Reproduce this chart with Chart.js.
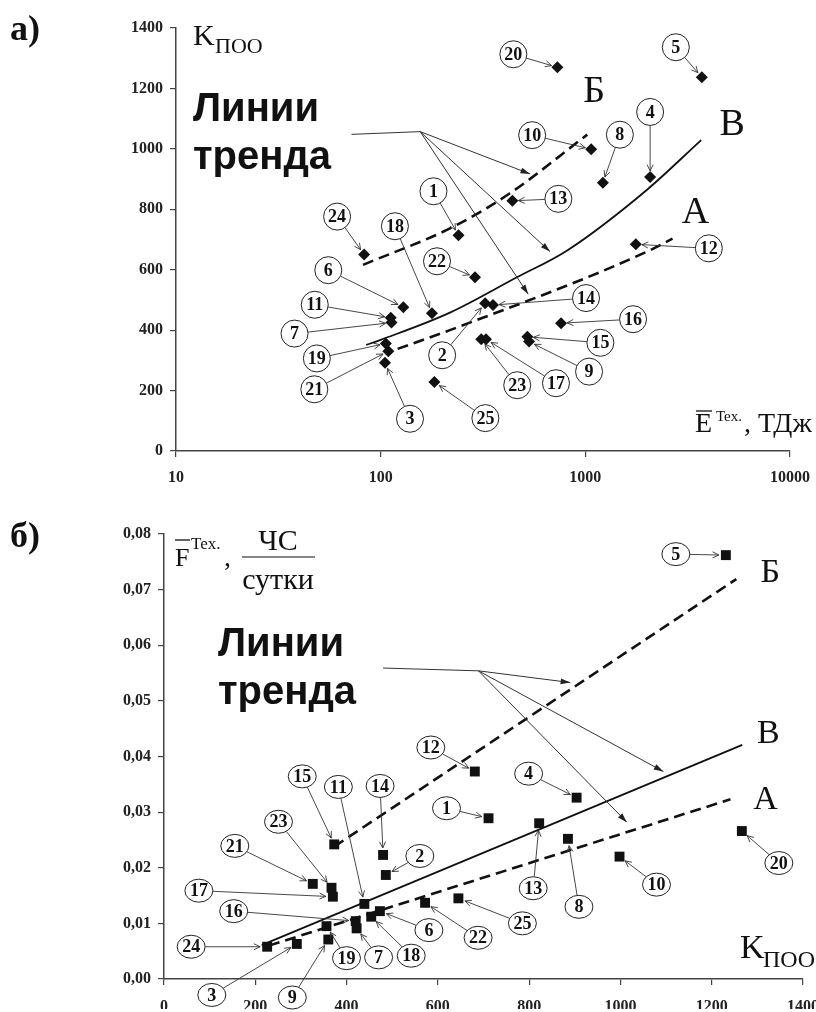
<!DOCTYPE html>
<html>
<head>
<meta charset="utf-8">
<script src="https://cdn.jsdelivr.net/npm/chart.js@4.4.1/dist/chart.umd.min.js"></script>
<style>
  body { margin: 0; background: #fff; }
  #wrap { position: relative; width: 816px; height: 1012px; }
  canvas { position: absolute; left: 0; }
</style>
</head>
<body>
<div id="wrap">
  <canvas id="chartA" width="816" height="505" style="top:0"></canvas>
  <canvas id="chartB" width="816" height="507" style="top:505px"></canvas>
</div>
<script>
const serif = "'Liberation Serif', 'Times New Roman', serif";
const sans = "'Liberation Sans', Arial, sans-serif";
const ink = "#111";

// номера объектов (одинаковые для обеих панелей)
const pointIds = [1, 2, 3, 4, 5, 6, 7, 8, 9, 10, 11, 12, 13, 14, 15, 16, 17, 18, 19, 20, 21, 22, 23, 24, 25];

// --- панель а) : Е тех., ТДж (лог. шкала) vs К ПОО ---
const energyTex = [240, 324, 105, 2073, 3708, 129, 113, 1218, 531, 1068, 112, 1765, 440, 354, 521, 761, 327, 178, 106, 730, 109, 289, 310, 83, 183];
const kpooA = [714, 489, 292, 907, 1237, 476, 425, 888, 362, 999, 441, 684, 828, 483, 378, 423, 370, 456, 356, 1270, 330, 575, 370, 650, 228];
const xTicksA = [10, 100, 1000, 10000];

// линии тренда
const trendAxA = [121, 218, 2080, 2666];
const trendAyA = [338, 400, 665, 703];
const trendAxB = [82, 226, 428, 1022];
const trendAyB = [616, 742, 853, 1047];
const trendAxV = [85, 100, 218, 463, 812, 1996, 3681];
const trendAyV = [351, 368, 458, 575, 663, 864, 1029];

// --- панель б) : К ПОО vs F тех., ЧС/сутки ---
const kpooB = [711, 486, 291, 904, 1231, 473, 422, 885, 360, 998, 439, 681, 822, 480, 373, 420, 370, 454, 356, 1266, 326, 572, 367, 226, 645];
const freqB = [0.0289, 0.0187, 0.0063, 0.0326, 0.0762, 0.0122, 0.0091, 0.0252, 0.0071, 0.0220, 0.0135, 0.0373, 0.0280, 0.0223, 0.0242, 0.0104, 0.0148, 0.0112, 0.0095, 0.0266, 0.0171, 0.0137, 0.0164, 0.0058, 0.0145];

const trendBxA = [230, 1241];
const trendByA = [0.0060, 0.0323];
const trendBxB = [373, 1254];
const trendByB = [0.0238, 0.0719];
const trendBxV = [214, 1267];
const trendByV = [0.0061, 0.0421];

// положение кружков с номерами относительно точки (пиксели)
const calloutA = [[-25,-44],[-43,52],[25,56],[0,-65],[-26,-30],[-75,-37],[-97,11],[17,-48],[60,30],[-59,-14],
  [-76,-13],[73,4],[46,-2],[93,-7],[73,6],[72,-4],[70,44],[-37,-87],[-69,15],[-44,-13],[-74,38],[-38,-16],[36,46],[-27,-38],[51,36]];
const calloutB = [[-42,-10],[34,-19],[-85,51],[-48,-24],[-50,-1],[49,19],[22,29],[11,68],[-36,58],[37,28],
  [-26,-117],[-44,-24],[-6,65],[-3,-69],[-32,-68],[-122,-10],[-134,-6],[40,39],[20,32],[37,32],[-78,-38],[53,35],[-53,-66],[-76,0],[64,25]];

const xy = (xs, ys) => xs.map((v, i) => ({ x: v, y: ys[i] }));

function openHead(ctx, sx, sy, ex, ey, len) {
  const a = Math.atan2(ey - sy, ex - sx);
  ctx.beginPath();
  ctx.moveTo(ex - len * Math.cos(a - 0.45), ey - len * Math.sin(a - 0.45));
  ctx.lineTo(ex, ey);
  ctx.lineTo(ex - len * Math.cos(a + 0.45), ey - len * Math.sin(a + 0.45));
  ctx.stroke();
}

function filledHead(ctx, sx, sy, ex, ey) {
  const a = Math.atan2(ey - sy, ex - sx);
  ctx.beginPath();
  ctx.moveTo(ex, ey);
  ctx.lineTo(ex - 10 * Math.cos(a - 0.3), ey - 10 * Math.sin(a - 0.3));
  ctx.lineTo(ex - 10 * Math.cos(a + 0.3), ey - 10 * Math.sin(a + 0.3));
  ctx.closePath();
  ctx.fill();
}

function text(ctx, str, x, y, font, align) {
  ctx.font = font;
  ctx.textAlign = align || "left";
  ctx.textBaseline = "alphabetic";
  ctx.fillText(str, x, y);
}

// рисует подписи, выноски и заголовки осей поверх графика
function makeDeco(cfg) {
  return {
    id: "deco",
    afterDraw(chart) {
      const { ctx, chartArea: ca } = chart;
      const sx = chart.scales.x, sy = chart.scales.y;
      const px = (v) => sx.getPixelForValue(v);
      const py = (v) => sy.getPixelForValue(v);
      ctx.save();
      ctx.fillStyle = ink;

      // "Линии тренда" + стрелки к линиям
      text(ctx, "Линии", ca.left + cfg.title.dx, ca.top + cfg.title.y1, `bold 40px ${sans}`);
      text(ctx, "тренда", ca.left + cfg.title.dx, ca.top + cfg.title.y2, `bold 40px ${sans}`);
      const L = cfg.leader;
      const hx = px(L.hub[0]), hy = py(L.hub[1]);
      ctx.strokeStyle = "#333";
      ctx.lineWidth = 1;
      ctx.beginPath();
      ctx.moveTo(px(L.start[0]), py(L.start[1]));
      ctx.lineTo(hx, hy);
      ctx.stroke();
      ctx.fillStyle = "#222";
      L.tips.forEach(([tx, ty]) => {
        const ex = px(tx), ey = py(ty);
        ctx.beginPath();
        ctx.moveTo(hx, hy);
        ctx.lineTo(ex, ey);
        ctx.stroke();
        filledHead(ctx, hx, hy, ex, ey);
      });

      // буквы А, Б, В у концов трендов
      ctx.fillStyle = ink;
      cfg.letters.forEach((l) => {
        ctx.font = `${cfg.letterSize}px ${serif}`;
        ctx.textAlign = "center";
        ctx.textBaseline = "middle";
        ctx.fillText(l.t, px(l.x) + l.dx, py(l.y) + l.dy);
      });

      // выноски с номерами
      const c = cfg.callouts;
      pointIds.forEach((id, i) => {
        const ppx = px(c.xs[i]), ppy = py(c.ys[i]);
        const [dx, dy] = c.offsets[i];
        const cx = ppx + dx, cy = ppy + dy;
        const len = Math.hypot(dx, dy);
        const ux = -dx / len, uy = -dy / len;
        const s = 1 / Math.sqrt((ux / c.rx) ** 2 + (uy / c.ry) ** 2);
        const bx = cx + ux * s, by = cy + uy * s;
        const ex = ppx - ux * c.gap, ey = ppy - uy * c.gap;
        ctx.strokeStyle = "#333";
        ctx.lineWidth = 0.9;
        ctx.beginPath();
        ctx.moveTo(bx, by);
        ctx.lineTo(ex, ey);
        ctx.stroke();
        openHead(ctx, bx, by, ex, ey, 7);
        ctx.beginPath();
        ctx.ellipse(cx, cy, c.rx, c.ry, 0, 0, Math.PI * 2);
        ctx.fillStyle = "#fff";
        ctx.fill();
        ctx.lineWidth = 1;
        ctx.strokeStyle = "#222";
        ctx.stroke();
        ctx.fillStyle = ink;
        ctx.font = c.font;
        ctx.textAlign = "center";
        ctx.textBaseline = "middle";
        ctx.fillText(String(id), cx, cy + 1);
      });

      // подпись панели и заголовки осей
      text(ctx, cfg.panel, 10, cfg.panelY, `bold 36px ${serif}`);
      cfg.axisTitles(ctx, ca);
      ctx.restore();
    },
  };
}

const tickFont = { family: serif, size: 16, weight: "bold" };

function axisX(extra) {
  return Object.assign({
    grid: { drawOnChartArea: false, tickLength: 6, color: "#444", lineWidth: 1.2 },
    border: { color: "#444", width: 1.5 },
  }, extra);
}

function trendSet(data, dashed, width) {
  return {
    data, showLine: true, pointRadius: 0, borderColor: ink, borderWidth: width,
    borderDash: dashed ? [11, 6] : [], cubicInterpolationMode: "monotone", fill: false,
  };
}

// ---------- а) ----------
new Chart(document.getElementById("chartA"), {
  type: "scatter",
  data: {
    datasets: [
      trendSet(xy(trendAxB, trendAyB), true, 2.6),
      trendSet(xy(trendAxV, trendAyV), false, 1.8),
      trendSet(xy(trendAxA, trendAyA), true, 2.6),
      {
        data: xy(energyTex, kpooA), pointStyle: "rectRot", pointRadius: 6,
        backgroundColor: ink, borderColor: ink, borderWidth: 0,
      },
    ],
  },
  options: {
    responsive: false, animation: false, events: [],
    layout: { padding: { left: 76, right: 26, top: 28, bottom: 10 } },
    plugins: { legend: { display: false }, tooltip: { enabled: false } },
    scales: {
      x: axisX({
        type: "logarithmic", min: 10, max: 10000,
        afterBuildTicks: (s) => { s.ticks = xTicksA.map((v) => ({ value: v })); },
        ticks: { font: tickFont, color: "#222", padding: 11, maxRotation: 0, autoSkip: false, callback: (v) => String(v) },
        afterFit: (s) => { s.height = 44; s.paddingLeft = 0; s.paddingRight = 0; },
      }),
      y: axisX({
        min: 0, max: 1400,
        ticks: { font: tickFont, color: "#222", padding: 7, stepSize: 200, callback: (v) => String(v) },
        afterFit: (s) => { s.width = 100; s.paddingTop = 0; s.paddingBottom = 0; },
      }),
    },
  },
  plugins: [makeDeco({
    panel: "а)", panelY: 40,
    title: { dx: 17, y1: 93, y2: 141 },
    leader: { start: [72, 1048], hub: [156, 1057], tips: [[537, 917], [672, 660], [526, 519]] },
    letterSize: 38,
    letters: [
      { t: "Б", x: 1022, y: 1047, dx: 7, dy: -43 },
      { t: "В", x: 3681, y: 1029, dx: 31, dy: -15 },
      { t: "А", x: 2666, y: 703, dx: 23, dy: -26 },
    ],
    callouts: { xs: energyTex, ys: kpooA, offsets: calloutA, rx: 13.5, ry: 13.5, gap: 6, font: `bold 18px ${serif}` },
    axisTitles(ctx, ca) {
      text(ctx, "K", ca.left + 17, ca.top + 17, `30px ${serif}`);
      text(ctx, "ПОО", ca.left + 39, ca.top + 25, `22px ${serif}`);
      const ex = ca.right - 95, ey = ca.bottom - 19;
      text(ctx, "E", ex, ey, `28px ${serif}`);
      ctx.strokeStyle = ink;
      ctx.lineWidth = 1.3;
      ctx.beginPath();
      ctx.moveTo(ex + 1, ey - 21);
      ctx.lineTo(ex + 17, ey - 21);
      ctx.stroke();
      text(ctx, "Tex.", ex + 21, ey - 11, `15px ${serif}`);
      text(ctx, ", ТДж", ex + 49, ey, `28px ${serif}`);
    },
  })],
});

// ---------- б) ----------
new Chart(document.getElementById("chartB"), {
  type: "scatter",
  data: {
    datasets: [
      trendSet(xy(trendBxB, trendByB), true, 2.6),
      trendSet(xy(trendBxV, trendByV), false, 1.8),
      trendSet(xy(trendBxA, trendByA), true, 2.6),
      {
        data: xy(kpooB, freqB), pointStyle: "rect", pointRadius: 7,
        backgroundColor: ink, borderColor: ink, borderWidth: 0,
      },
    ],
  },
  options: {
    responsive: false, animation: false, events: [],
    layout: { padding: { left: 64, right: 13, top: 29, bottom: 3 } },
    plugins: { legend: { display: false }, tooltip: { enabled: false } },
    scales: {
      x: axisX({
        min: 0, max: 1400,
        ticks: { font: tickFont, color: "#222", padding: 12, stepSize: 200, maxRotation: 0, autoSkip: false, callback: (v) => String(v) },
        afterFit: (s) => { s.height = 30; s.paddingLeft = 0; s.paddingRight = 0; },
      }),
      y: axisX({
        min: 0, max: 0.08,
        ticks: { font: tickFont, color: "#222", padding: 7, stepSize: 0.01, callback: (v) => v.toFixed(2).replace(".", ",") },
        afterFit: (s) => { s.width = 100; s.paddingTop = 0; s.paddingBottom = 0; },
      }),
    },
  },
  plugins: [makeDeco({
    panel: "б)", panelY: 42,
    title: { dx: 54, y1: 122, y2: 170 },
    leader: { start: [480, 0.0559], hub: [689, 0.0554], tips: [[890, 0.0533], [1094, 0.0373], [1014, 0.0282]] },
    letterSize: 34,
    letters: [
      { t: "Б", x: 1254, y: 0.0719, dx: 34, dy: -6 },
      { t: "В", x: 1267, y: 0.0421, dx: 26, dy: -11 },
      { t: "А", x: 1241, y: 0.0323, dx: 35, dy: 1 },
    ],
    callouts: { xs: kpooB, ys: freqB, offsets: calloutB, rx: 14, ry: 11.5, gap: 7, font: `bold 18px ${serif}` },
    axisTitles(ctx, ca) {
      const fx = ca.left + 11, fy = ca.top + 32;
      text(ctx, "F", fx, fy, `26px ${serif}`);
      ctx.strokeStyle = ink;
      ctx.lineWidth = 1.3;
      ctx.beginPath();
      ctx.moveTo(fx, ca.top + 6);
      ctx.lineTo(fx + 15, ca.top + 6);
      ctx.stroke();
      text(ctx, "Tex.", fx + 16, ca.top + 15, `17px ${serif}`);
      text(ctx, ",", ca.left + 60, fy, `28px ${serif}`);
      const mx = ca.left + 114;
      text(ctx, "ЧС", mx, ca.top + 16, `30px ${serif}`, "center");
      ctx.lineWidth = 1.2;
      ctx.beginPath();
      ctx.moveTo(ca.left + 78, ca.top + 23);
      ctx.lineTo(ca.left + 151, ca.top + 23);
      ctx.stroke();
      text(ctx, "сутки", mx, ca.top + 55, `30px ${serif}`, "center");
      text(ctx, "K", ca.right - 63, ca.bottom - 21, `34px ${serif}`);
      text(ctx, "ПОО", ca.right - 40, ca.bottom - 12, `24px ${serif}`);
    },
  })],
});
</script>
</body>
</html>
